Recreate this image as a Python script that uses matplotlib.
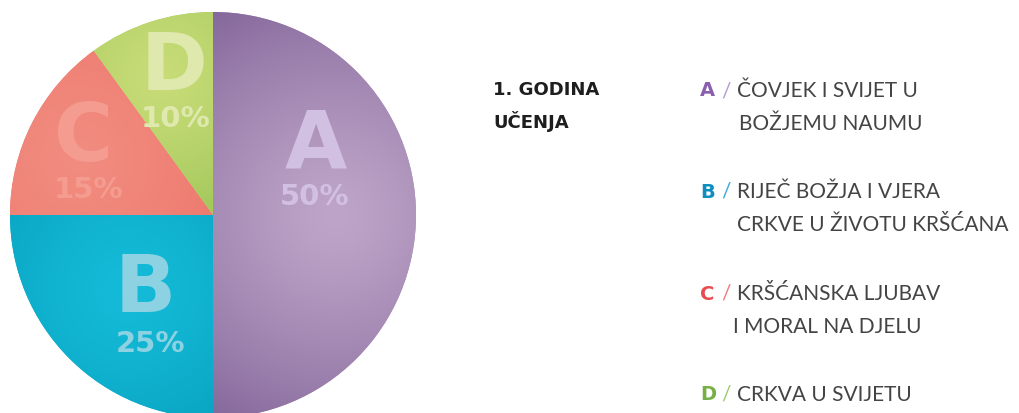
import numpy as np
import matplotlib.pyplot as plt
from matplotlib.colors import to_rgb

# data
letters = ['A', 'B', 'C', 'D']
shares = [50, 25, 15, 10]
topics = [
    ['ČOVJEK I SVIJET U', 'BOŽJEMU NAUMU'],
    ['RIJEČ BOŽJA I VJERA', 'CRKVE U ŽIVOTU KRŠĆANA'],
    ['KRŠĆANSKA LJUBAV', 'I MORAL NA DJELU'],
    ['CRKVA U SVIJETU'],
]
title_lines = ['1. GODINA', 'UČENJA']

# styles
base_cols = ['#a88bb9', '#05aecd', '#ee7064', '#b3cf66']
light_cols = ['#bea5c8', '#14bbd8', '#f28c80', '#c8dc78']
dark_cols = ['#7d5f95', '#0090ae', '#e9665c', '#78b03a']
hl_frac = [0.6, 0.6, 0.75, 0.85]
label_cols = ['#d2c0e2', '#8dd2e2', '#f39c8f', '#dfe9ae']
key_cols = ['#8b5fb0', '#0e8fc0', '#e84c50', '#74b043']
slash_cols = ['#b39ad0', '#3aa8d6', '#ef7b7b', '#9dcb6c']

W, H = 1019, 414
fig = plt.figure(figsize=(W / 100, H / 100), dpi=100)
ax = fig.add_axes([0, 0, 1, 1])

cx, cy, R = 213, H - 216, 203
wedges, _ = ax.pie(shares, colors=base_cols, startangle=90, counterclock=False,
                   center=(cx, cy), radius=R, frame=True,
                   wedgeprops=dict(linewidth=0))
ax.set_xlim(0, W)
ax.set_ylim(0, H)
ax.set_aspect('equal')
ax.axis('off')

# soft shading inside each wedge
yy, xx = np.mgrid[cy + R:cy - R:-1, cx - R:cx + R]
for w, lc, dc, f in zip(wedges, light_cols, dark_cols, hl_frac):
    mid = np.deg2rad((w.theta1 + w.theta2) / 2)
    hx = cx + f * R * np.cos(mid)
    hy = cy + f * 0.85 * R * np.sin(mid)
    d = np.hypot(xx - hx, yy - hy) / (1.3 * R)
    t = np.clip(d, 0, 1)[..., None] ** 1.3
    img = (1 - t) * np.array(to_rgb(lc)) + t * np.array(to_rgb(dc))
    im = ax.imshow(img, extent=(cx - R, cx + R, cy - R, cy + R), zorder=2,
                   interpolation='bilinear')
    im.set_clip_path(w)

# labels inside the pie (pixel positions from the top)
label_pos = [(316, 147, 315, 197), (145, 290, 150, 344),
             (84, 139, 89, 190), (174, 68, 176, 119)]
for lt, sh, col, (lx, ly, px, py) in zip(letters, shares, label_cols, label_pos):
    ax.text(lx, H - ly, lt, fontsize=58, fontweight='bold', color=col,
            ha='center', va='center', zorder=3, family='DejaVu Sans')
    ax.text(px, H - py, f'{sh}%', fontsize=21, fontweight='bold', color=col,
            ha='center', va='center', zorder=3, family='DejaVu Sans')

# heading
for i, line in enumerate(title_lines):
    ax.text(493, H - (90 + 32 * i), line, fontsize=13, fontweight='bold',
            color='#1e1e1e', ha='left', va='center', family='DejaVu Sans')

# legend
rows = [91, 192, 294, 395]
indent = [739, 737, 733, 737]
for lt, lines, kc, sc, ry, ind in zip(letters, topics, key_cols, slash_cols, rows, indent):
    ax.text(700, H - ry, lt, fontsize=14, fontweight='bold', color=kc,
            ha='left', va='center', family='DejaVu Sans')
    ax.text(721, H - ry, '/', fontsize=15, color=sc, ha='left', va='center',
            family='Lato')
    for j, line in enumerate(lines):
        ax.text(737 if j == 0 else ind, H - (ry + 33 * j), line, fontsize=15,
                color='#444444', ha='left', va='center', family='Lato')

fig.savefig('out.png', dpi=100)
